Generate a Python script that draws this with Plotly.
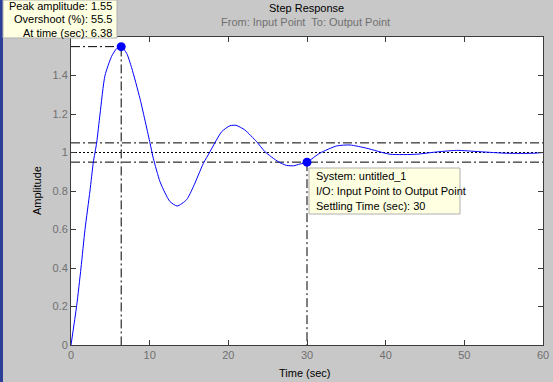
import plotly.graph_objects as go

# ---- data ----
time_sec = [0, 0.72, 1.27, 1.78, 2.41, 2.84, 3.26, 3.69, 4.32, 5.17, 5.8, 6.38, 7.08, 7.71, 8.77,
            10.04, 10.46, 11.3, 11.95, 12.58, 13.5, 14.7, 15.55, 16.82, 17.67, 18.3,
            19.15, 20.2, 21.0, 22.1, 23.6, 24.66, 26.35, 27.4, 28.3, 29.1, 30.0, 31.65,
            33.77, 35.47, 37.6, 40.55, 43.94, 46.06, 49.03, 52.0, 55.4, 58.8, 60.0]
amplitude = [0, 0.204, 0.40, 0.60, 0.80, 0.95, 1.05, 1.20, 1.40, 1.50, 1.54, 1.55, 1.515, 1.44, 1.28,
             1.05, 0.97, 0.85, 0.79, 0.745, 0.722, 0.755, 0.822, 0.943, 1.004, 1.051,
             1.108, 1.139, 1.141, 1.117, 1.056, 1.004, 0.952, 0.933, 0.931, 0.94, 0.95, 0.997,
             1.034, 1.039, 1.022, 0.991, 0.991, 1.001, 1.011, 1.004, 0.996, 0.996, 1.0]
peak_time, peak_amp = 6.38, 1.55
settle_time, settle_amp = 30, 0.95
final_value = 1.0
band_hi, band_lo = 1.05, 0.95
x_ticks = [0, 10, 20, 30, 40, 50, 60]
y_ticks = [0, 0.2, 0.4, 0.6, 0.8, 1.0, 1.2, 1.4]
y_tick_text = ["0", "0.2", "0.4", "0.6", "0.8", "1", "1.2", "1.4"]
peak_tip = ["Peak amplitude: 1.55", "Overshoot (%): 55.5", "At time (sec): 6.38"]
settle_tip = ["System: untitled_1", "I/O: Input Point to Output Point", "Settling Time (sec): 30"]

W, H = 553, 382
L, R, T, B = 71, 543, 37, 345
FONT = "Liberation Sans"
DASHDOT = "9px,3px,2px,3px"
DOT = "2px,2px"


def px(x):
    return (x - L) / (R - L)


def py(y):
    return (B - y) / (B - T)


fig = go.Figure()
# settling band and final value
fig.add_trace(go.Scatter(x=[0, 60], y=[band_hi, band_hi], mode="lines",
                         line=dict(color="black", width=1, dash=DASHDOT), hoverinfo="skip"))
fig.add_trace(go.Scatter(x=[0, 60], y=[band_lo, band_lo], mode="lines",
                         line=dict(color="black", width=1, dash=DASHDOT), hoverinfo="skip"))
fig.add_trace(go.Scatter(x=[0, 60], y=[final_value, final_value], mode="lines",
                         line=dict(color="black", width=1, dash=DOT), hoverinfo="skip"))
# peak guides
fig.add_trace(go.Scatter(x=[0, peak_time, peak_time], y=[peak_amp, peak_amp, 0], mode="lines",
                         line=dict(color="black", width=1, dash=DASHDOT), hoverinfo="skip"))
# settling guide
fig.add_trace(go.Scatter(x=[settle_time, settle_time], y=[settle_amp, 0], mode="lines",
                         line=dict(color="black", width=1, dash=DASHDOT), hoverinfo="skip"))
# response
fig.add_trace(go.Scatter(x=time_sec, y=amplitude, mode="lines",
                         line=dict(color="#0000ff", width=1, shape="spline", smoothing=0.6)))
fig.add_trace(go.Scatter(x=[peak_time, settle_time], y=[peak_amp, settle_amp], mode="markers",
                         marker=dict(color="#0000ff", size=9), cliponaxis=False))

axis_common = dict(showgrid=False, zeroline=False, showline=True, linecolor="#3c3c3c",
                   linewidth=1, mirror="allticks", ticks="inside", ticklen=5, automargin=False,
                   tickcolor="#3c3c3c", tickfont=dict(family=FONT, size=11, color="#707070"))
fig.update_xaxes(range=[0, 60], tickvals=x_ticks, **axis_common)
fig.update_yaxes(range=[0, 1.6], tickvals=y_ticks, ticktext=y_tick_text, **axis_common)

shapes = [
    dict(type="rect", xref="paper", yref="paper", x0=px(0), x1=px(3), y0=py(H), y1=py(0),
         fillcolor="#2b3f96", line=dict(width=0), layer="above"),
    dict(type="rect", xref="paper", yref="paper", x0=px(3), x1=px(117), y0=py(38), y1=py(0),
         fillcolor="#ffffe1", line=dict(color="#b0b0b0", width=1), layer="above"),
    dict(type="rect", xref="paper", yref="paper", x0=px(309), x1=px(460), y0=py(214), y1=py(168),
         fillcolor="#ffffe1", line=dict(color="#b0b0b0", width=1), layer="above"),
]

ann = []
for i, t in enumerate(peak_tip):
    ann.append(dict(text=t, xref="paper", yref="paper", x=px(114), y=py(6 + 13.5 * i),
                    xanchor="right", yanchor="middle", showarrow=False,
                    font=dict(family=FONT, size=11, color="black")))
for i, t in enumerate(settle_tip):
    ann.append(dict(text=t, xref="paper", yref="paper", x=px(314), y=py(176 + 15 * i),
                    xanchor="left", yanchor="middle", showarrow=False,
                    font=dict(family=FONT, size=11, color="black")))
ann += [
    dict(text="Step Response", xref="paper", yref="paper", x=px(306), y=py(8),
         xanchor="center", yanchor="middle", showarrow=False,
         font=dict(family=FONT, size=11, color="black")),
    dict(text="From: Input Point  To: Output Point", xref="paper", yref="paper", x=px(305), y=py(22),
         xanchor="center", yanchor="middle", showarrow=False,
         font=dict(family=FONT, size=11, color="#707070")),
    dict(text="Time (sec)", xref="paper", yref="paper", x=px(305), y=py(373),
         xanchor="center", yanchor="middle", showarrow=False,
         font=dict(family=FONT, size=11, color="black")),
    dict(text="Amplitude", xref="paper", yref="paper", x=px(37), y=py(191), textangle=-90,
         xanchor="center", yanchor="middle", showarrow=False,
         font=dict(family=FONT, size=11, color="black")),
]

fig.update_layout(width=W, height=H, margin=dict(l=L, r=W - R, t=T, b=H - B, pad=0),
                  paper_bgcolor="#c8c8c8", plot_bgcolor="white", showlegend=False,
                  shapes=shapes, annotations=ann)
fig.write_html("out.html", config={"displayModeBar": False},
               post_script="document.body.style.margin='0';document.body.style.overflow='hidden';")
